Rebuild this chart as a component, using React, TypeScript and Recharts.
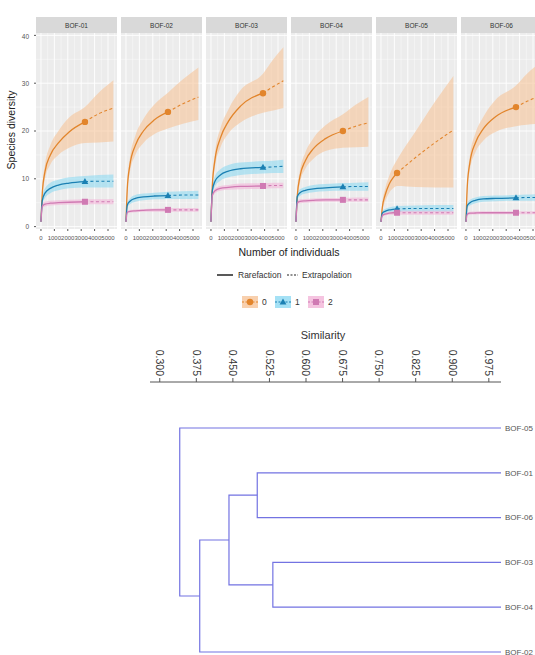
import React from 'react'
import { Area, CartesianGrid, ComposedChart, Line, Scatter, ScatterChart, XAxis, YAxis } from 'recharts'

const siteNames = ['BOF-01', 'BOF-02', 'BOF-03', 'BOF-04', 'BOF-05', 'BOF-06']
const observedSize = [3280, 3130, 3880, 3500, 1200, 3730]
const sizeTicks = [0, 1000, 2000, 3000, 4000, 5000]
const sizeMinor = [500, 1500, 2500, 3500, 4500, 5500]
const diversityTicks = [0, 10, 20, 30, 40]
const diversityMinor = [5, 15, 25, 35]
const orderLabels = ['0', '1', '2']

// BOF-01
const bof01Size = [1, 100, 300, 700, 1300, 2100, 3280, 4300, 5400]
const bof01Q0 = [1, 7, 11.5, 15, 17.5, 19.8, 21.9, 23.6, 24.8]
const bof01Q0Lo = [1, 6, 10, 13, 15, 16.5, 17.5, 17.6, 17.8]
const bof01Q0Hi = [1, 8, 13, 17, 20, 22.8, 25, 28, 30.6]
const bof01Q1 = [1, 5.5, 7, 8, 8.7, 9.1, 9.4, 9.5, 9.5]
const bof01Q1Lo = [1, 4.8, 6, 7, 7.6, 8, 8.2, 8.2, 8.2]
const bof01Q1Hi = [1, 6.2, 8, 9.2, 9.8, 10.3, 10.6, 10.8, 10.9]
const bof01Q2 = [1, 4.3, 4.7, 4.9, 5, 5.1, 5.2, 5.2, 5.2]
const bof01Q2Lo = [1, 3.8, 4.2, 4.4, 4.5, 4.6, 4.7, 4.7, 4.7]
const bof01Q2Hi = [1, 4.8, 5.2, 5.4, 5.5, 5.6, 5.7, 5.7, 5.8]

// BOF-02
const bof02Size = [1, 100, 300, 700, 1300, 2100, 3130, 4250, 5400]
const bof02Q0 = [1, 8, 13, 17, 20, 22.3, 24, 25.7, 27.1]
const bof02Q0Lo = [1, 7, 11.5, 15, 17.5, 19.3, 20.5, 21.5, 22.3]
const bof02Q0Hi = [1, 9, 14.5, 19, 22.5, 25.5, 28, 30.8, 33.3]
const bof02Q1 = [1, 4.5, 5.3, 5.9, 6.2, 6.4, 6.5, 6.6, 6.6]
const bof02Q1Lo = [1, 4, 4.7, 5.2, 5.5, 5.7, 5.8, 5.8, 5.8]
const bof02Q1Hi = [1, 5, 5.9, 6.6, 6.9, 7.1, 7.3, 7.4, 7.5]
const bof02Q2 = [1, 3, 3.2, 3.3, 3.4, 3.5, 3.5, 3.5, 3.5]
const bof02Q2Lo = [1, 2.7, 2.9, 3, 3.1, 3.1, 3.1, 3.1, 3.1]
const bof02Q2Hi = [1, 3.3, 3.5, 3.6, 3.7, 3.8, 3.9, 3.9, 3.9]

// BOF-03
const bof03Size = [1, 100, 300, 700, 1300, 2200, 3880, 4650, 5400]
const bof03Q0 = [1, 8.5, 14, 18.5, 22, 25.2, 27.9, 29.3, 30.5]
const bof03Q0Lo = [1, 7.5, 12.5, 16.5, 19.5, 21.8, 23.8, 24.3, 24.8]
const bof03Q0Hi = [1, 9.5, 15.5, 20.5, 24.5, 28.5, 32, 35, 37.5]
const bof03Q1 = [1, 7.5, 9.5, 10.8, 11.6, 12.1, 12.4, 12.5, 12.6]
const bof03Q1Lo = [1, 6.6, 8.4, 9.6, 10.3, 10.8, 11.1, 11.2, 11.2]
const bof03Q1Hi = [1, 8.4, 10.6, 12, 12.9, 13.4, 13.7, 13.8, 14]
const bof03Q2 = [1, 6.5, 7.5, 8, 8.2, 8.4, 8.5, 8.6, 8.6]
const bof03Q2Lo = [1, 6, 7, 7.5, 7.7, 7.8, 7.9, 8, 8]
const bof03Q2Hi = [1, 7, 8, 8.5, 8.7, 9, 9.1, 9.2, 9.2]

// BOF-04
const bof04Size = [1, 100, 300, 700, 1300, 2200, 3500, 4450, 5400]
const bof04Q0 = [1, 6.5, 10.5, 13.8, 16.3, 18.4, 20, 21, 21.7]
const bof04Q0Lo = [1, 5.5, 9.2, 12.1, 14.2, 15.8, 16.5, 16.6, 16.7]
const bof04Q0Hi = [1, 7.5, 11.8, 15.5, 18.5, 21.2, 23.5, 25.5, 27.1]
const bof04Q1 = [1, 6.3, 7.1, 7.6, 7.9, 8.1, 8.3, 8.4, 8.4]
const bof04Q1Lo = [1, 5.6, 6.4, 6.9, 7.2, 7.4, 7.5, 7.5, 7.5]
const bof04Q1Hi = [1, 7, 7.8, 8.3, 8.7, 8.9, 9.1, 9.2, 9.3]
const bof04Q2 = [1, 5, 5.3, 5.4, 5.5, 5.6, 5.6, 5.6, 5.6]
const bof04Q2Lo = [1, 4.6, 4.9, 5, 5.1, 5.2, 5.2, 5.2, 5.2]
const bof04Q2Hi = [1, 5.4, 5.7, 5.8, 5.9, 6, 6, 6.1, 6.1]

// BOF-05
const bof05Size = [1, 100, 300, 600, 900, 1200, 2600, 4000, 5400]
const bof05Q0 = [1, 4, 6.5, 8.8, 10.2, 11.2, 14.5, 17.5, 20.2]
const bof05Q0Lo = [1, 3.2, 5.2, 7, 8, 8.5, 8.3, 8.2, 8.2]
const bof05Q0Hi = [1, 4.8, 7.8, 10.5, 12.5, 14, 20, 26, 31.5]
const bof05Q1 = [1, 2.8, 3.2, 3.5, 3.6, 3.7, 3.8, 3.8, 3.8]
const bof05Q1Lo = [1, 2.3, 2.7, 3, 3.1, 3.1, 3.1, 3.1, 3.1]
const bof05Q1Hi = [1, 3.3, 3.7, 4, 4.2, 4.3, 4.4, 4.5, 4.5]
const bof05Q2 = [1, 2.3, 2.6, 2.8, 2.9, 2.9, 2.9, 2.9, 2.9]
const bof05Q2Lo = [1, 2, 2.3, 2.5, 2.5, 2.5, 2.5, 2.5, 2.5]
const bof05Q2Hi = [1, 2.6, 2.9, 3.1, 3.2, 3.3, 3.3, 3.3, 3.3]

// BOF-06
const bof06Size = [1, 100, 300, 700, 1300, 2200, 3730, 4550, 5400]
const bof06Q0 = [1, 8.5, 13.5, 17.5, 20.5, 23, 25, 26.2, 27.2]
const bof06Q0Lo = [1, 7.5, 12, 15.5, 18, 19.8, 21, 21.3, 21.5]
const bof06Q0Hi = [1, 9.5, 15, 19.5, 23, 26.5, 29.5, 32, 34]
const bof06Q1 = [1, 4.4, 5, 5.5, 5.8, 5.9, 6, 6.1, 6.1]
const bof06Q1Lo = [1, 3.9, 4.4, 4.9, 5.2, 5.3, 5.4, 5.4, 5.4]
const bof06Q1Hi = [1, 4.9, 5.6, 6.1, 6.4, 6.5, 6.6, 6.7, 6.8]
const bof06Q2 = [1, 2.6, 2.8, 2.85, 2.9, 2.9, 2.9, 2.9, 2.9]
const bof06Q2Lo = [1, 2.3, 2.5, 2.55, 2.6, 2.6, 2.6, 2.6, 2.6]
const bof06Q2Hi = [1, 2.9, 3.1, 3.15, 3.2, 3.2, 3.2, 3.2, 3.2]

// dendrogram (leaves top to bottom, merges in order; ids 0-5 leaves, 6+ merges)
const leafNames = ['BOF-05', 'BOF-01', 'BOF-06', 'BOF-03', 'BOF-04', 'BOF-02']
const mergeLeft = [1, 3, 6, 8, 0]
const mergeRight = [2, 4, 7, 5, 9]
const mergeSim = [0.5, 0.532, 0.442, 0.382, 0.341]
const simTicks = [0.3, 0.375, 0.45, 0.525, 0.6, 0.675, 0.75, 0.825, 0.9, 0.975]

const qColors = ['#E2852C', '#1B80B3', '#D07AB3']
const bandColors = ['#F6C49A', '#8FDAF2', '#F3B5D8']
const FONT = '"Liberation Sans", Arial, sans-serif'

const panels = [
  { size: bof01Size, q: [[bof01Q0, bof01Q0Lo, bof01Q0Hi], [bof01Q1, bof01Q1Lo, bof01Q1Hi], [bof01Q2, bof01Q2Lo, bof01Q2Hi]] },
  { size: bof02Size, q: [[bof02Q0, bof02Q0Lo, bof02Q0Hi], [bof02Q1, bof02Q1Lo, bof02Q1Hi], [bof02Q2, bof02Q2Lo, bof02Q2Hi]] },
  { size: bof03Size, q: [[bof03Q0, bof03Q0Lo, bof03Q0Hi], [bof03Q1, bof03Q1Lo, bof03Q1Hi], [bof03Q2, bof03Q2Lo, bof03Q2Hi]] },
  { size: bof04Size, q: [[bof04Q0, bof04Q0Lo, bof04Q0Hi], [bof04Q1, bof04Q1Lo, bof04Q1Hi], [bof04Q2, bof04Q2Lo, bof04Q2Hi]] },
  { size: bof05Size, q: [[bof05Q0, bof05Q0Lo, bof05Q0Hi], [bof05Q1, bof05Q1Lo, bof05Q1Hi], [bof05Q2, bof05Q2Lo, bof05Q2Hi]] },
  { size: bof06Size, q: [[bof06Q0, bof06Q0Lo, bof06Q0Hi], [bof06Q1, bof06Q1Lo, bof06Q1Hi], [bof06Q2, bof06Q2Lo, bof06Q2Hi]] },
]

function buildRows(p: any, obs: number) {
  return p.size.map((n: number, i: number) => {
    const row: any = { n, obs: n === obs }
    p.q.forEach((q: number[][], j: number) => {
      row['r' + j] = n <= obs ? q[0][i] : undefined
      row['e' + j] = n >= obs ? q[0][i] : undefined
      row['b' + j] = [q[1][i], q[2][i]]
    })
    return row
  })
}

function marker(j: number, cx: number, cy: number, key: string) {
  const c = qColors[j]
  if (j === 0) return <circle key={key} cx={cx} cy={cy} r={3.2} fill={c} />
  if (j === 1) return <path key={key} d={`M${cx},${cy - 3.6}L${cx + 3.4},${cy + 2.4}L${cx - 3.4},${cy + 2.4}Z`} fill={c} />
  return <rect key={key} x={cx - 3} y={cy - 3} width={6} height={6} fill={c} />
}

const makeDot = (j: number) => (props: any) => {
  const { cx, cy, payload, index } = props
  if (!payload || !payload.obs || cx == null || cy == null) return <g key={`d${j}-${index}`} />
  return marker(j, cx, cy, `d${j}-${index}`)
}

function Facet({ idx }: { idx: number }) {
  const rows = buildRows(panels[idx], observedSize[idx])
  const axisW = idx === 0 ? 18 : 0
  const left = 36 + idx * 85 - axisW
  return (
    <div style={{ position: 'absolute', left, top: 17 }}>
      <svg width={81} height={16} style={{ display: 'block', marginLeft: axisW }}>
        <rect width={81} height={16} fill="#D9D9D9" />
        <text x={40.5} y={10.5} textAnchor="middle" fontSize={6.5} fill="#333" fontFamily={FONT}>
          {siteNames[idx]}
        </text>
      </svg>
      <ComposedChart width={81 + axisW} height={214} data={rows} margin={{ top: 0, right: 0, bottom: 0, left: 0 }}>
        <CartesianGrid fill="#ECECEC" stroke="#FFFFFF" strokeWidth={0.4} verticalValues={sizeMinor} horizontalValues={diversityMinor} />
        <CartesianGrid stroke="#FFFFFF" strokeWidth={0.9} verticalValues={sizeTicks} horizontalValues={diversityTicks} />
        <XAxis
          type="number"
          dataKey="n"
          domain={[-370, 5670]}
          allowDataOverflow
          ticks={sizeTicks}
          interval={0}
          height={18}
          tickSize={2}
          tickMargin={5}
          axisLine={false}
          tickLine={{ stroke: '#555' }}
          tick={{ fontSize: 6, fill: '#555', fontFamily: FONT }}
        />
        <YAxis
          type="number"
          domain={[-0.5, 40.5]}
          allowDataOverflow
          ticks={diversityTicks}
          hide={idx > 0}
          width={axisW}
          tickSize={2}
          tickMargin={5}
          axisLine={false}
          tickLine={{ stroke: '#555' }}
          tick={{ fontSize: 6.5, fill: '#555', fontFamily: FONT }}
        />
        {[0, 1, 2].map((j) => (
          <Area
            key={'b' + j}
            type="monotone"
            dataKey={'b' + j}
            stroke="none"
            fill={bandColors[j]}
            fillOpacity={0.6}
            isAnimationActive={false}
          />
        ))}
        {[0, 1, 2].map((j) => (
          <Line
            key={'e' + j}
            type="monotone"
            dataKey={'e' + j}
            stroke={qColors[j]}
            strokeWidth={1.1}
            strokeDasharray="3 2.5"
            dot={false}
            isAnimationActive={false}
          />
        ))}
        {[0, 1, 2].map((j) => (
          <Line
            key={'r' + j}
            type="monotone"
            dataKey={'r' + j}
            stroke={qColors[j]}
            strokeWidth={1.3}
            dot={makeDot(j)}
            activeDot={false}
            isAnimationActive={false}
          />
        ))}
      </ComposedChart>
    </div>
  )
}

function buildSegments() {
  const pos: { s: number; y: number }[] = leafNames.map((_, i) => ({ s: 1, y: i }))
  return mergeSim.map((sim, k) => {
    const a = pos[mergeLeft[k]]
    const b = pos[mergeRight[k]]
    pos.push({ s: sim, y: (a.y + b.y) / 2 })
    return [
      { s: a.s, y: a.y },
      { s: sim, y: a.y },
      { s: sim, y: b.y },
      { s: b.s, y: b.y },
    ]
  })
}

function SimTick(props: any) {
  const { x, y, payload } = props
  return (
    <text x={x} y={y} transform={`rotate(90, ${x}, ${y})`} textAnchor="end" dy="0.35em" fontSize={10.5} fill="#333" fontFamily={FONT}>
      {Number(payload.value).toFixed(3)}
    </text>
  )
}

function Dendrogram() {
  const segments = buildSegments()
  return (
    <div style={{ position: 'absolute', left: 0, top: 320 }}>
      <ScatterChart width={535} height={400} margin={{ top: 10, right: 0, bottom: 0, left: 150 }}>
        <XAxis
          type="number"
          dataKey="s"
          orientation="top"
          domain={[0.28, 1.0]}
          allowDataOverflow
          ticks={simTicks}
          interval={0}
          height={52}
          tickSize={4}
          tickMargin={2}
          axisLine={{ stroke: '#555' }}
          tickLine={{ stroke: '#555' }}
          tick={<SimTick />}
        />
        <YAxis
          type="number"
          dataKey="y"
          orientation="right"
          reversed
          domain={[-1.027, 6.518]}
          allowDataOverflow
          ticks={[0, 1, 2, 3, 4, 5]}
          interval={0}
          width={34}
          axisLine={false}
          tickLine={false}
          tickSize={2}
          tickMargin={2}
          tickFormatter={(v: number) => leafNames[v] ?? ''}
          tick={{ fontSize: 8, fill: '#555', fontFamily: FONT }}
        />
        {segments.map((seg, k) => (
          <Scatter
            key={k}
            data={seg}
            line={{ stroke: '#7373E2', strokeWidth: 1.2 }}
            lineType="joint"
            shape={() => <g />}
            isAnimationActive={false}
          />
        ))}
      </ScatterChart>
    </div>
  )
}

function LegendKey({ x, j }: { x: number; j: number }) {
  return (
    <g>
      <rect x={x} y={296} width={16} height={12} fill={bandColors[j]} opacity={0.8} />
      <line x1={x} x2={x + 16} y1={302} y2={302} stroke={qColors[j]} strokeWidth={1.2} strokeDasharray="2 1.5" />
      {marker(j, x + 8, 302, 'k' + j)}
    </g>
  )
}

export default function App() {
  return (
    <div style={{ position: 'absolute', left: 0, top: 0, width: 535, height: 655, overflow: 'hidden', background: '#fff', fontFamily: FONT }}>
      {panels.map((_, i) => (
        <Facet key={i} idx={i} />
      ))}
      <Dendrogram />
      <svg width={535} height={655} style={{ position: 'absolute', left: 0, top: 0, pointerEvents: 'none' }}>
        <text x={12} y={130} transform="rotate(-90, 12, 130)" textAnchor="middle" dominantBaseline="middle" fontSize={10.5} fill="#222" fontFamily={FONT}>
          Species diversity
        </text>
        <text x={289} y={256} textAnchor="middle" fontSize={10.5} fill="#222" fontFamily={FONT}>
          Number of individuals
        </text>
        <line x1={217} x2={233} y1={275} y2={275} stroke="#222" strokeWidth={1.5} />
        <text x={238} y={278} fontSize={8.5} fill="#333" fontFamily={FONT}>
          Rarefaction
        </text>
        <line x1={287} x2={298} y1={275} y2={275} stroke="#222" strokeWidth={1.1} strokeDasharray="2 1.5" />
        <text x={302} y={278} fontSize={8.5} fill="#333" fontFamily={FONT}>
          Extrapolation
        </text>
        {[242, 275, 308].map((x, j) => (
          <g key={j}>
            <LegendKey x={x} j={j} />
            <text x={x + 20} y={305} fontSize={8.5} fill="#333" fontFamily={FONT}>
              {orderLabels[j]}
            </text>
          </g>
        ))}
        <text x={323} y={339} textAnchor="middle" fontSize={11} fill="#333" fontFamily={FONT}>
          Similarity
        </text>
      </svg>
    </div>
  )
}
